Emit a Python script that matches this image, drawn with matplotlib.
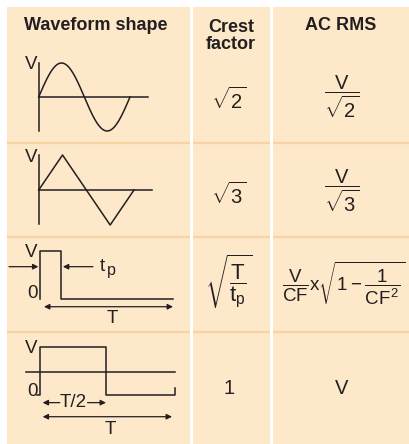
import numpy as np
import matplotlib
matplotlib.use("Agg")
import matplotlib.pyplot as plt
from matplotlib import font_manager as fm
from matplotlib.patches import Rectangle

# ---------------- data ----------------
headers = ["Waveform shape", "Crest\nfactor", "AC RMS"]
crest_factors = [r"$\sqrt{2}$", r"$\sqrt{3}$", r"$\sqrt{\dfrac{T}{t_p}}$", "1"]
ac_rms = [r"$\dfrac{V}{\sqrt{2}}$", r"$\dfrac{V}{\sqrt{3}}$",
          r"$\dfrac{V}{CF}$x$\sqrt{1-\dfrac{1}{CF^2}}$", "V"]

sine_t = np.linspace(0, 1, 200)
sine_v = np.sin(2 * np.pi * sine_t)
tri_t = [0, 0.25, 0.75, 1.0]
tri_v = [0, 1, -1, 0]
pulse_tp = 0.16
pulse_t = [0, 0, pulse_tp, pulse_tp, 1.0]
pulse_v = [0, 1, 1, 0, 0]
sq_t = [-0.023, 0, 0, 0.5, 0.5, 1.023, 1.023]
sq_v = [0, 0, 1, 1, 0, 0, 0.15]

# ---------------- style ----------------
avail = {f.name for f in fm.fontManager.ttflist}
FONT = "Liberation Sans Narrow" if "Liberation Sans Narrow" in avail else "Liberation Sans"
plt.rcParams["font.family"] = [FONT, "DejaVu Sans"]
plt.rcParams["mathtext.fontset"] = "custom"
plt.rcParams["mathtext.rm"] = FONT
plt.rcParams["mathtext.it"] = FONT
plt.rcParams["mathtext.bf"] = FONT + ":bold"

W, H = 409, 444
CELL = "#FDE8C9"
SEP = "#F9D3A2"
INK = "#231F20"
LW = 1.1

fig = plt.figure(figsize=(W / 100, H / 100), dpi=100)
fig.patch.set_facecolor("white")
ax = fig.add_axes([0, 0, 1, 1])
ax.set_xlim(0, W)
ax.set_ylim(H, 0)
ax.axis("off")

cols = [(7, 190), (193, 270), (273, 409)]
for x0, x1 in cols:
    ax.add_patch(Rectangle((x0, 7), x1 - x0, H - 7, facecolor=CELL, edgecolor="none"))
    for ys in (143, 237, 332):
        ax.plot([x0, x1], [ys, ys], color=SEP, lw=1.6, solid_capstyle="butt")

# headers
HFS = 13
ax.text(96, 26, headers[0], ha="center", va="center", fontsize=HFS, fontweight="bold", color=INK)
ax.text(231, 36, headers[1], ha="center", va="center", fontsize=HFS, fontweight="bold",
        color=INK, linespacing=1.05)
ax.text(341, 26, headers[2], ha="center", va="center", fontsize=HFS, fontweight="bold", color=INK)

# crest factor and rms columns
BFS = 14.5
cf_y = [100, 195, 282, 388]
rms_y = [97, 191, 283, 388]
rms_x = [342, 342, 344, 342]
cf_fs = [BFS, BFS, BFS + 1.5, BFS]
rms_fs = [BFS, BFS, 13.5, BFS]
for i in range(4):
    ax.text(229, cf_y[i], crest_factors[i], ha="center", va="center", fontsize=cf_fs[i], color=INK)
    ax.text(rms_x[i], rms_y[i], ac_rms[i], ha="center", va="center",
            fontsize=rms_fs[i], color=INK)


def wave_axes(row_top, row_bot, t0px, t1px, v0px, v1px):
    sx = t1px - t0px
    sy = v0px - v1px
    left, right = 7, 190
    a = fig.add_axes([left / W, 1 - row_bot / H, (right - left) / W, (row_bot - row_top) / H])
    a.set_xlim((left - t0px) / sx, (right - t0px) / sx)
    a.set_ylim((v0px - row_bot) / sy, (v0px - row_top) / sy)
    a.axis("off")
    a.patch.set_alpha(0)
    return a


def arrow(a, x0, y0, x1, y1, style="-|>"):
    a.annotate("", xy=(x1, y1), xytext=(x0, y0),
               arrowprops=dict(arrowstyle=style, color=INK, lw=0.9, mutation_scale=8,
                               shrinkA=0, shrinkB=0))

lab = dict(fontsize=13.5, color=INK)

# sine
a = wave_axes(50, 143, 38.7, 130, 97, 63)
a.plot([0, 0], [-1.0, 1.0], color=INK, lw=LW)
a.plot([0, 1.2], [0, 0], color=INK, lw=LW)
a.plot(sine_t, sine_v, color=INK, lw=LW)
a.text(-0.01, 0.97, "V", ha="right", va="center", **lab)

# triangle
a = wave_axes(143, 237, 38.7, 134, 190, 155)
a.plot([0, 0], [-0.97, 1.0], color=INK, lw=LW)
a.plot([0, 1.19], [0, 0], color=INK, lw=LW)
a.plot(tri_t, tri_v, color=INK, lw=LW)
a.text(-0.01, 0.93, "V", ha="right", va="center", **lab)

# pulse
a = wave_axes(237, 332, 40, 173, 298.7, 250.7)
a.plot(pulse_t, pulse_v, color=INK, lw=LW)
arrow(a, -0.233, 0.667, -0.012, 0.667)
arrow(a, 0.398, 0.667, pulse_tp + 0.012, 0.667)
arrow(a, 0.03, -0.167, 1.0, -0.167, "<|-|>")
a.text(-0.02, 0.96, "V", ha="right", va="center", **lab)
a.text(-0.02, 0.10, "0", ha="right", va="center", **lab)
a.text(0.45, 0.667, "t", ha="left", va="center", **lab)
a.text(0.505, 0.58, "p", ha="left", va="center", fontsize=11.5, color=INK)
a.text(0.54, -0.42, "T", ha="center", va="center", **lab)

# square
a = wave_axes(332, 444, 40, 172, 395, 347.3)
a.plot(sq_t, sq_v, color=INK, lw=LW)
a.plot([-0.106, 1.023], [0.49, 0.49], color=INK, lw=LW)
arrow(a, 0.15, -0.16, 0.02, -0.16)
arrow(a, 0.36, -0.16, 0.5, -0.16)
arrow(a, 0.02, -0.455, 1.0, -0.455, "<|-|>")
a.text(-0.02, 0.985, "V", ha="right", va="center", **lab)
a.text(-0.02, 0.08, "0", ha="right", va="center", **lab)
a.text(0.255, -0.16, "T/2", ha="center", va="center", **lab)
a.text(0.53, -0.73, "T", ha="center", va="center", **lab)

fig.savefig("out.png", dpi=100, facecolor="white")
